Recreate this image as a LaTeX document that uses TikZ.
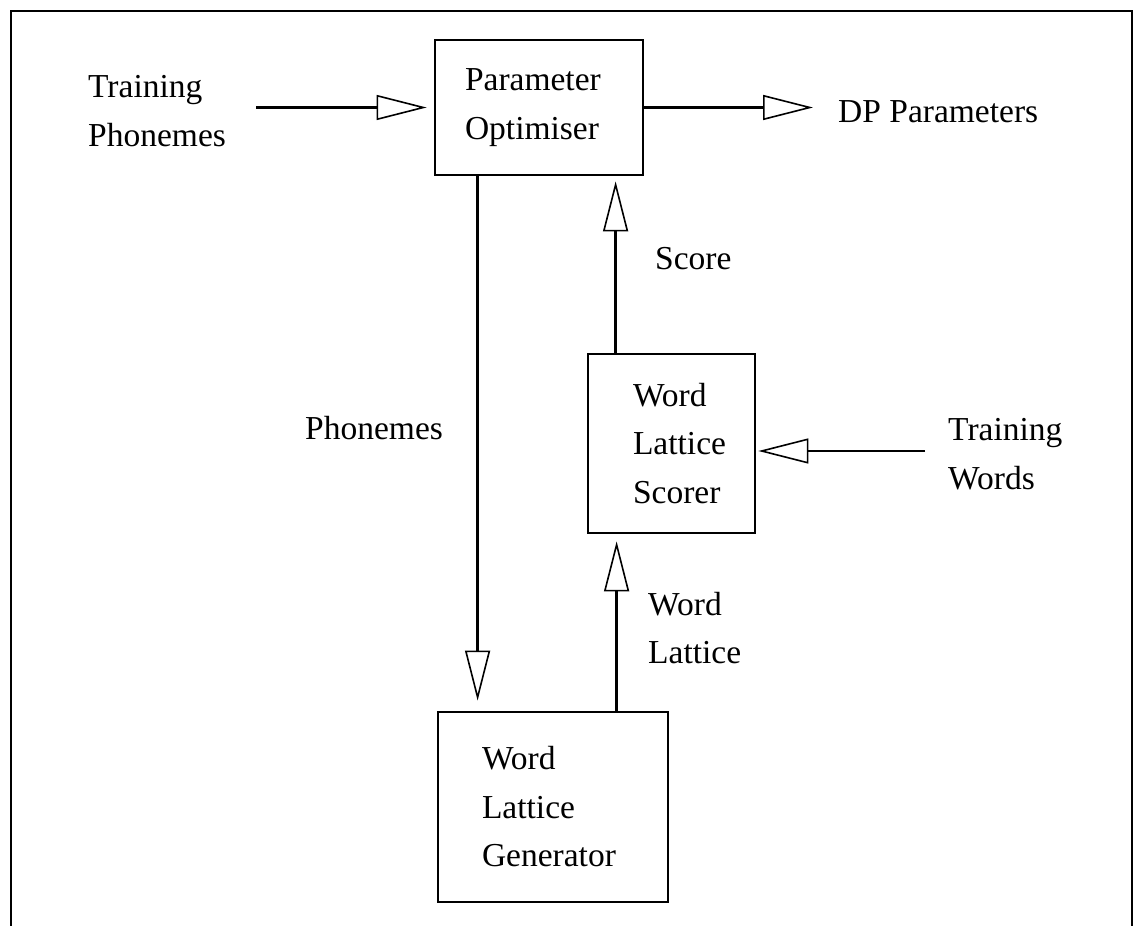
\documentclass[tikz,border=0pt]{standalone}
\usepackage{fontspec}
\setmainfont{Liberation Serif}
\usetikzlibrary{arrows.meta}
\begin{document}
\begin{tikzpicture}[x=1pt,y=-1pt,
  txt/.style={font=\fontsize{33.5}{48.5}\selectfont, inner sep=0pt, align=left},
  blk/.style={draw, line width=2.8pt, font=\fontsize{33.5}{48.5}\selectfont, align=left, inner ysep=0pt},
  conn/.style={line width=2.8pt, -{Triangle[open, length=50pt, width=25pt, line width=1.6pt]}}
]
\useasboundingbox (0,0) rectangle (1136,926);
\fill[white] (0,0) rectangle (1136,926);
% frame
\draw[line width=2.4pt] (11,960) -- (11,11) -- (1132,11) -- (1132,960);

% boxes
\node[blk, inner xsep=30pt, text width=148pt, minimum height=135pt] (po) at (539,107.5) {Parameter\\Optimiser};
\node[blk, inner xsep=45pt, text width=77pt, minimum height=179pt] (sc) at (671.5,443.5) {Word\\Lattice\\Scorer};
\node[blk, inner xsep=44pt, text width=142pt, minimum height=190pt] (gen) at (553,807) {Word\\Lattice\\Generator};

% texts
\node[txt, anchor=west] (tp) at (88,111) {Training\\Phonemes};
\node[txt, anchor=base west] (dp) at (838,122) {DP Parameters};
\node[txt, anchor=base west] (score) at (655,269) {Score};
\node[txt, anchor=base west] (ph) at (305,439) {Phonemes};
\node[txt, anchor=west] (tw) at (948,454) {Training\\Words};
\node[txt, anchor=west] (wl) at (648,628) {Word\\Lattice};

% connectors
\draw[conn] (tp.east |- po.west) ++(30,0) -- ([xshift=-7pt]po.west);
\draw[conn] (po.east) -- ([xshift=-25pt]dp.west |- po.east);
\draw[conn] ([xshift=44pt]po.south west) -- ([xshift=41pt,yshift=10pt]gen.north west);
\draw[conn] ([xshift=29pt]sc.north west) -- ([xshift=182pt,yshift=-5pt]po.south west);
\draw[conn] ([xshift=180pt]gen.north west) -- ([xshift=30pt,yshift=-7pt]sc.south west);
\draw[conn] ([xshift=-23pt,yshift=-7.5pt]tw.west |- sc.east) -- ([xshift=2pt,yshift=-7.5pt]sc.east);
\end{tikzpicture}
\end{document}
